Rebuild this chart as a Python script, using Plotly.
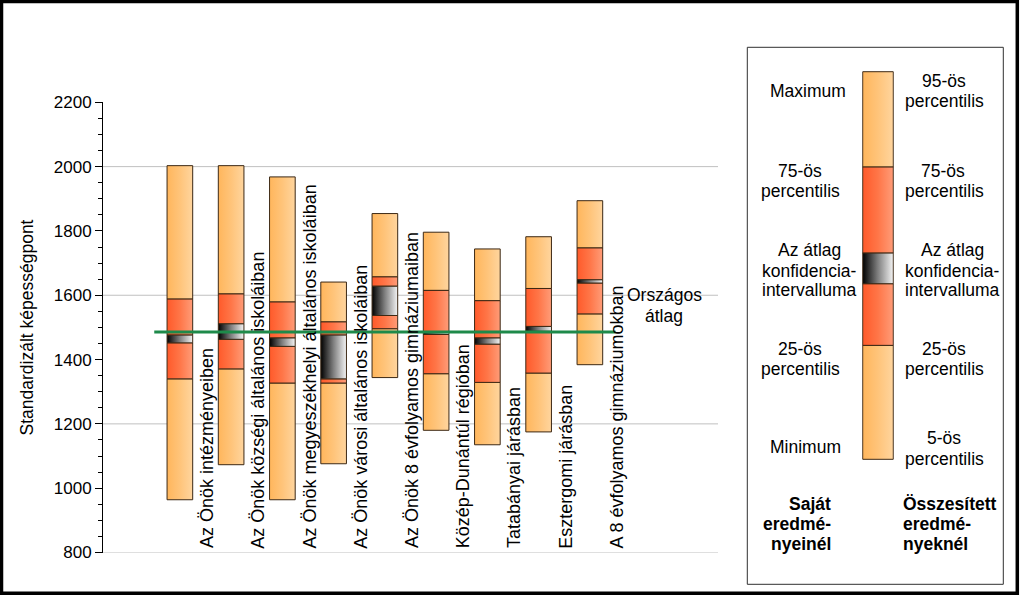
import plotly.graph_objects as go

# ---------------- data ----------------
categories = [
    "Az Önök intézményeiben",
    "Az Önök községi általános iskoláiban",
    "Az Önök megyeszékhelyi általános iskoláiban",
    "Az Önök városi általános iskoláiban",
    "Az Önök 8 évfolyamos gimnáziumaiban",
    "Közép-Dunántúl régióban",
    "Tatabányai járásban",
    "Esztergomi járásban",
    "A 8 évfolyamos gimnáziumokban",
]
p_low = [964, 1073, 964, 1076, 1344, 1180, 1135, 1175, 1384]      # minimum / 5th pct
p25 = [1340, 1371, 1327, 1327, 1496, 1356, 1329, 1358, 1542]
ci_low = [1452, 1463, 1441, 1340, 1537, 1478, 1448, 1488, 1638]
ci_high = [1476, 1511, 1467, 1476, 1628, 1484, 1467, 1503, 1648]
p75 = [1588, 1604, 1579, 1517, 1657, 1615, 1583, 1621, 1747]
p_high = [2003, 2003, 1968, 1641, 1854, 1796, 1744, 1782, 1894]   # maximum / 95th pct
national_avg = 1486
y_ticks = [800, 1000, 1200, 1400, 1600, 1800, 2000, 2200]
grid_values = [800, 1200, 1600, 2000]
legend_scale = [0, 29.4, 45.3, 53.2, 75.4, 100]   # schematic legend bar

# ---------------- style ----------------
W, H = 1024, 597
FONT = "Arial, 'Liberation Sans', sans-serif"
FS = 17.5
ORANGE = [[0, "#FFB65C"], [0.5, "#FFC47A"], [1, "#FFD59E"]]
RED = [[0, "#FF5A2A"], [0.5, "#FF7648"], [1, "#FF9C78"]]
CI = [[0, "#000000"], [0.5, "#808080"], [1, "#F4F4F4"]]
EDGE = "#3C2814"
HALF = 0.25


def fx(px):
    return px / W


def fy(py):
    return 1 - py / H


fig = go.Figure()


def add_segment(xc, lo, hi, scale, xa="x", ya="y", half=HALF):
    fig.add_trace(go.Scatter(
        x=[xc - half, xc + half, xc + half, xc - half, xc - half],
        y=[lo, lo, hi, hi, lo],
        mode="lines", fill="toself",
        fillgradient=dict(type="horizontal", colorscale=scale),
        line=dict(color=EDGE, width=1),
        xaxis=xa, yaxis=ya, showlegend=False, hoverinfo="skip",
    ))


for i in range(len(categories)):
    add_segment(i, p_low[i], p25[i], ORANGE)
    add_segment(i, p75[i], p_high[i], ORANGE)
    add_segment(i, p25[i], ci_low[i], RED)
    add_segment(i, ci_high[i], p75[i], RED)
    add_segment(i, ci_low[i], ci_high[i], CI)

# national average line
fig.add_trace(go.Scatter(
    x=[-0.5, len(categories) - 0.5], y=[national_avg, national_avg],
    mode="lines", line=dict(color="#1E8A4A", width=3),
    showlegend=False, hoverinfo="skip",
))

# legend schematic bar (own axes)
ls = legend_scale
add_segment(0.5, ls[0], ls[1], ORANGE, "x2", "y2", 0.5)
add_segment(0.5, ls[4], ls[5], ORANGE, "x2", "y2", 0.5)
add_segment(0.5, ls[1], ls[2], RED, "x2", "y2", 0.5)
add_segment(0.5, ls[3], ls[4], RED, "x2", "y2", 0.5)
add_segment(0.5, ls[2], ls[3], CI, "x2", "y2", 0.5)

annotations = []
# category labels
for i, c in enumerate(categories):
    annotations.append(dict(
        x=i + 0.52, y=800, xref="x", yref="y", text=c, textangle=-90,
        showarrow=False, xanchor="center", yanchor="bottom", yshift=2,
        font=dict(family=FONT, size=18, color="black"),
    ))

# y axis title
annotations.append(dict(
    x=fx(27), y=fy(327.5), xref="paper", yref="paper",
    text="Standardizált képességpont", textangle=-90, showarrow=False,
    xanchor="center", yanchor="middle",
    font=dict(family=FONT, size=FS, color="black"),
))

# "Országos átlag"
for txt, py in [("Országos", 295), ("átlag", 316)]:
    annotations.append(dict(
        x=fx(664), y=fy(py), xref="paper", yref="paper", text=txt,
        showarrow=False, xanchor="center", yanchor="middle",
        font=dict(family=FONT, size=FS, color="black"),
    ))

# legend texts
legend_texts = [
    ("Maximum", 808, 91.5, False, "center"),
    ("75-ös", 800, 171.4, False, "center"),
    ("percentilis", 800, 191, False, "center"),
    ("Az átlag", 809, 249.6, False, "center"),
    ("konfidencia-", 809, 270.9, False, "center"),
    ("intervalluma", 809, 290.4, False, "center"),
    ("25-ös", 800, 349, False, "center"),
    ("percentilis", 800, 368.6, False, "center"),
    ("Minimum", 805, 446.7, False, "center"),
    ("Saját", 833, 503.6, True, "right"),
    ("eredmé-", 833, 523.8, True, "right"),
    ("nyeinél", 833, 543.7, True, "right"),
    ("95-ös", 944, 80.9, False, "center"),
    ("percentilis", 944, 101, False, "center"),
    ("75-ös", 943, 171.4, False, "center"),
    ("percentilis", 944, 191, False, "center"),
    ("Az átlag", 952, 249.6, False, "center"),
    ("konfidencia-", 952, 270.9, False, "center"),
    ("intervalluma", 952, 290.4, False, "center"),
    ("25-ös", 944, 349, False, "center"),
    ("percentilis", 944, 368.6, False, "center"),
    ("5-ös", 944, 437.9, False, "center"),
    ("percentilis", 944, 458.5, False, "center"),
    ("Összesített", 901, 503.6, True, "left"),
    ("eredmé-", 901, 523.8, True, "left"),
    ("nyeknél", 901, 543.7, True, "left"),
]
for txt, px, py, bold, anchor in legend_texts:
    annotations.append(dict(
        x=fx(px), y=fy(py), xref="paper", yref="paper",
        text=f"<b>{txt}</b>" if bold else txt,
        showarrow=False, xanchor=anchor, yanchor="middle",
        font=dict(family=FONT, size=FS, color="black"),
    ))

shapes = []
for g in grid_values:
    shapes.append(dict(type="line", xref="x domain", yref="y", x0=0, x1=1,
                       y0=g, y1=g, line=dict(color="#C0C0C0", width=1),
                       layer="below"))
# legend box
shapes.append(dict(type="rect", xref="paper", yref="paper",
                   x0=fx(747.3), x1=fx(1003.3), y0=fy(584.3), y1=fy(47.3),
                   line=dict(color="#303030", width=1)))
# outer frame
shapes.append(dict(type="rect", xref="paper", yref="paper",
                   x0=fx(1.5), x1=fx(1017.3), y0=fy(593.3), y1=fy(1.5),
                   line=dict(color="black", width=3.5)))

# legend axes geometry
lb_left, lb_right, lb_top, lb_bot = 862.7, 893.3, 71.7, 459.3
ppu = (lb_bot - lb_top) / 100.0

fig.update_layout(
    width=W, height=H, autosize=False,
    margin=dict(l=0, r=0, t=0, b=0),
    paper_bgcolor="white", plot_bgcolor="white",
    showlegend=False,
    xaxis=dict(domain=[fx(103), fx(718)], range=[-1.5, 10.5], visible=False,
               fixedrange=True),
    yaxis=dict(domain=[fy(552.5), fy(102.3)], range=[800, 2200],
               tickmode="array", tickvals=y_ticks,
               ticks="outside", ticklen=7, tickcolor="black",
               showline=True, linecolor="black", linewidth=1,
               showgrid=False, zeroline=False,
               minor=dict(dtick=50, tick0=800, ticks="outside", ticklen=4,
                          tickcolor="black", showgrid=False),
               tickfont=dict(family=FONT, size=17, color="black"),
               automargin=False),
    xaxis2=dict(domain=[fx(lb_left - 0.6), fx(lb_right + 0.6)],
                range=[-0.02, 1.02], visible=False, anchor="y2"),
    yaxis2=dict(domain=[fy(lb_bot + ppu), fy(lb_top - ppu)],
                range=[-1, 101], visible=False, anchor="x2"),
    annotations=annotations,
    shapes=shapes,
    font=dict(family=FONT, size=FS, color="black"),
)

fig.write_html("out.html")
